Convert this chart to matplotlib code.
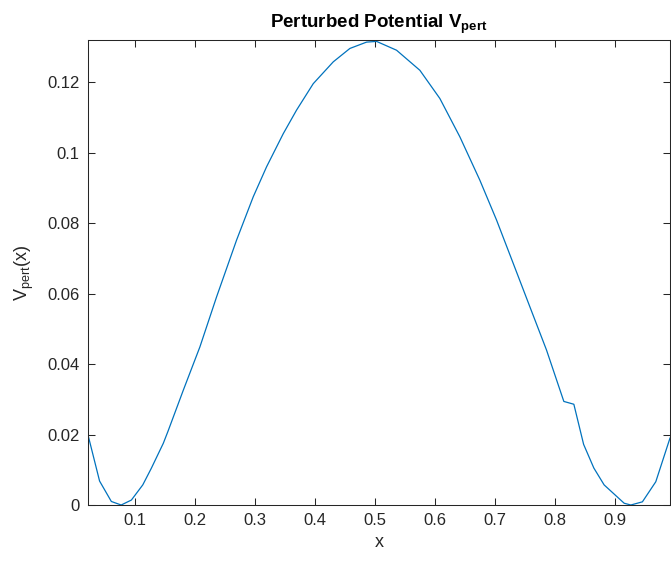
"""Perturbed potential curve, MATLAB-like styling"""

import matplotlib
matplotlib.use("Agg")
import matplotlib.pyplot as plt
from matplotlib.ticker import FuncFormatter

# ── data ──────────────────────────────────────────────
x_vals = [
    0.0217, 0.041, 0.0606, 0.077, 0.094, 0.113, 0.1272, 0.1472, 0.155,
    0.1806, 0.2083, 0.2361, 0.2694, 0.2972, 0.3194, 0.3472, 0.3694, 0.3972,
    0.4306, 0.4583, 0.4861, 0.5028, 0.5361, 0.575, 0.6083, 0.6417, 0.675,
    0.7028, 0.7306, 0.7583, 0.7861, 0.815, 0.8317, 0.848, 0.865, 0.8822,
    0.9156, 0.9267, 0.946, 0.9683, 0.992,
]
v_pert = [
    0.0199, 0.0068, 0.0010, 0.0000, 0.0014, 0.0057, 0.0104, 0.0175, 0.0209,
    0.0326, 0.0449, 0.0591, 0.0752, 0.0875, 0.0960, 0.1054, 0.1121, 0.1196,
    0.1258, 0.1296, 0.1314, 0.1316, 0.1291, 0.1234, 0.1154, 0.1045, 0.0922,
    0.0809, 0.0686, 0.0563, 0.0440, 0.0294, 0.0286, 0.0172, 0.0105, 0.0057,
    0.0005, 0.0000, 0.0009, 0.0066, 0.0190,
]
x_ticks = [0.1, 0.2, 0.3, 0.4, 0.5, 0.6, 0.7, 0.8, 0.9]
y_ticks = [0, 0.02, 0.04, 0.06, 0.08, 0.1, 0.12]

LINE_COLOR = "#0072BD"
AXIS_COLOR = "#262626"

plt.rcParams["font.family"] = ["Liberation Sans", "DejaVu Sans"]
plt.rcParams["mathtext.fontset"] = "custom"
plt.rcParams["mathtext.rm"] = "Liberation Sans"
plt.rcParams["mathtext.bf"] = "Liberation Sans:bold"
plt.rcParams["mathtext.it"] = "Liberation Sans:italic"

W, H = 671, 561
fig = plt.figure(figsize=(W / 100, H / 100), dpi=100)
ax = fig.add_axes([88 / W, (H - 505) / H, (670 - 88) / W, (505 - 40) / H])

ax.plot(x_vals, v_pert, color=LINE_COLOR, linewidth=0.9)

ax.set_xlim(0.0217, 0.992)
ax.set_ylim(0, 0.132)
ax.set_xticks(x_ticks)
ax.set_yticks(y_ticks)
fmt = FuncFormatter(lambda v, _: f"{v:g}")
ax.xaxis.set_major_formatter(fmt)
ax.yaxis.set_major_formatter(fmt)

ax.tick_params(direction="in", length=5, width=0.75, colors=AXIS_COLOR,
               labelsize=12, top=True, right=True, pad=6)
for sp in ax.spines.values():
    sp.set_color(AXIS_COLOR)
    sp.set_linewidth(0.75)

ax.set_title(r"Perturbed Potential V$_{\mathbf{pert}}$", fontsize=13.5,
             fontweight="bold", color="black", pad=9)
ax.set_xlabel("x", fontsize=13, color=AXIS_COLOR, labelpad=4)
ax.set_ylabel(r"V$_{\mathrm{pert}}$(x)", fontsize=13, color=AXIS_COLOR,
              labelpad=8)

fig.savefig("out.png", dpi=100)
plt.close(fig)
